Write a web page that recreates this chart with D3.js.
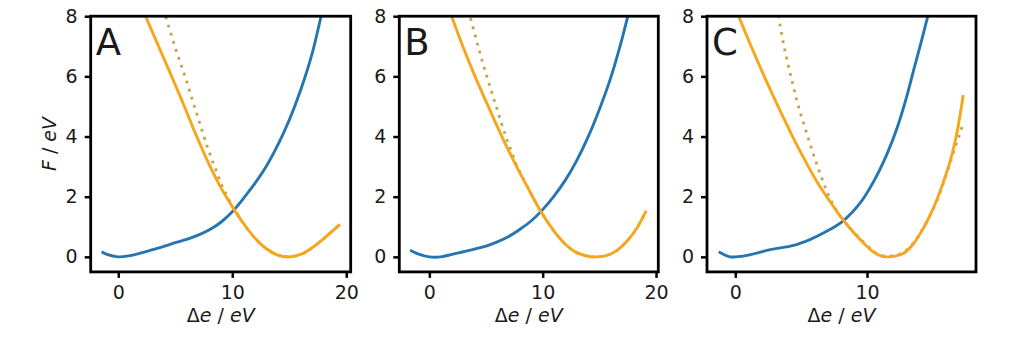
<!DOCTYPE html>
<html>
<head>
<meta charset="utf-8">
<script src="https://cdn.jsdelivr.net/npm/d3@7"></script>
<style>
  html, body { margin: 0; padding: 0; background: #fff; }
  svg { display: block; }
  text { font-family: "DejaVu Sans", sans-serif; fill: #1a1a1a; }
</style>
</head>
<body>
<svg id="chart" width="1017" height="345"></svg>
<script>
// ---- Free-energy curves F(Δe) for three systems ----
const panelLabels = ["A", "B", "C"];

// Panel A
const blueAX = [-1.46, -1, 0, 1, 2, 3, 4, 5, 6, 7, 8, 9, 10, 11, 12, 13, 14, 15, 16, 17, 17.7, 18.2];
const blueAY = [0.17, 0.08, 0, 0.04, 0.13, 0.24, 0.35, 0.47, 0.58, 0.72, 0.9, 1.15, 1.5, 1.95, 2.45, 3.02, 3.72, 4.55, 5.55, 6.75, 7.85, 8.7];
const orangeAX = [2.0, 2.4, 3.5, 4.68, 5.8, 6.88, 8.0, 9.0, 10.0, 11.0, 12.0, 13.0, 14.0, 15.0, 16.0, 17.0, 18.0, 19.45];
const orangeAY = [8.4, 8.0, 7.03, 6.0, 5.0, 4.0, 3.05, 2.3, 1.67, 1.1, 0.62, 0.27, 0.06, 0.0, 0.08, 0.3, 0.6, 1.08];
const dottedAX = [4.0, 4.16, 5.0, 5.85, 6.7, 7.52, 8.0, 8.5, 9.0, 9.5, 10.0, 10.5, 11.0, 12.0, 13.0, 14.0, 15.0, 16.0, 17.0, 18.0, 19.45];
const dottedAY = [8.25, 8.0, 6.95, 6.0, 4.98, 4.0, 3.45, 2.95, 2.45, 2.05, 1.69, 1.39, 1.1, 0.62, 0.27, 0.06, 0.0, 0.08, 0.3, 0.6, 1.08];

// Panel B
const blueBX = [-1.7, -1, 0, 1, 2, 3, 4, 5, 6, 7, 8, 9, 10, 11, 12, 13, 14, 15, 16, 17, 17.8];
const blueBY = [0.22, 0.1, 0, 0.0, 0.08, 0.17, 0.26, 0.36, 0.5, 0.68, 0.92, 1.2, 1.57, 2.02, 2.55, 3.2, 3.98, 4.9, 5.95, 7.25, 8.45];
const orangeBX = [1.6, 1.97, 3.0, 4.03, 5.2, 6.4, 7.7, 9.04, 9.77, 10.5, 11.24, 12.0, 13.0, 14.0, 14.5, 15.5, 16.5, 17.5, 18.3, 19.13];
const orangeBY = [8.4, 8.0, 6.95, 6.0, 5.0, 4.0, 3.0, 2.05, 1.55, 1.12, 0.74, 0.42, 0.14, 0.02, 0.0, 0.03, 0.2, 0.55, 0.95, 1.53];
const dottedBX = [3.45, 3.59, 4.3, 5.07, 5.9, 6.7, 7.3, 7.75, 8.3, 9.04, 9.77, 10.5, 11.24, 12.0, 13.0, 14.0, 14.5, 15.5, 16.5, 17.5, 18.3, 19.13];
const dottedBY = [8.2, 8.0, 7.0, 6.0, 5.0, 4.05, 3.45, 3.0, 2.6, 2.05, 1.55, 1.12, 0.74, 0.42, 0.14, 0.02, 0.0, 0.03, 0.2, 0.55, 0.95, 1.53];

// Panel C
const blueCX = [-1.26, -0.4, 0, 1, 2.66, 4.43, 5.7, 6.9, 8.2, 9.5, 10.5, 11.5, 12.3, 13.0, 13.6, 14.15, 14.62, 15.0];
const blueCY = [0.17, 0.0, 0, 0.06, 0.24, 0.38, 0.58, 0.84, 1.2, 1.8, 2.5, 3.4, 4.3, 5.3, 6.3, 7.2, 8.0, 8.7];
const orangeCX = [-0.1, 0.25, 1.2, 2.2, 3.25, 4.35, 5.55, 6.2, 7.1, 8.2, 9.0, 9.72, 10.5, 11.0, 11.5, 12.2, 12.79, 13.5, 14.05, 14.7, 15.3, 15.85, 16.33, 16.8, 17.31];
const orangeCY = [8.35, 8.0, 7.0, 6.0, 5.0, 4.0, 3.0, 2.5, 1.9, 1.22, 0.8, 0.47, 0.16, 0.04, 0.0, 0.03, 0.12, 0.42, 0.78, 1.3, 1.89, 2.55, 3.2, 4.05, 5.38];
const dottedCX = [3.15, 3.27, 3.7, 4.22, 4.8, 5.5, 6.25, 7.08, 7.6, 8.2, 9.0, 9.72, 10.5, 11.0, 11.5, 12.2, 12.79, 13.5, 14.05, 14.7, 15.3, 15.85, 16.3, 16.68, 17.06, 17.31];
const dottedCY = [8.3, 8.0, 7.0, 6.0, 5.0, 4.0, 3.0, 2.05, 1.6, 1.22, 0.82, 0.5, 0.18, 0.06, 0.02, 0.06, 0.15, 0.45, 0.8, 1.3, 1.85, 2.5, 3.1, 3.62, 4.1, 4.45];

// Axis limits and ticks
const xLimA = [-2.42, 20.39], xLimB = [-2.65, 20.2], xLimC = [-2.15, 18.28];
const yLim = [-0.5, 8];
const xTicksAB = [0, 10, 20], xTicksC = [0, 10];
const yTicks = [0, 2, 4, 6, 8];
const xTitle = ["Δ", "e", " / ", "eV"];
const yTitle = ["F", " / ", "eV"];

const zip = (xs, ys) => xs.map((x, i) => [x, ys[i]]);

const panels = [
  { label: panelLabels[0], xLim: xLimA, xTicks: xTicksAB, left: 90.7, right: 350.7, showY: true,
    blue: zip(blueAX, blueAY), orange: zip(orangeAX, orangeAY), dotted: zip(dottedAX, dottedAY) },
  { label: panelLabels[1], xLim: xLimB, xTicks: xTicksAB, left: 399.3, right: 658.3, showY: false,
    blue: zip(blueBX, blueBY), orange: zip(orangeBX, orangeBY), dotted: zip(dottedBX, dottedBY) },
  { label: panelLabels[2], xLim: xLimC, xTicks: xTicksC, left: 707, right: 976, showY: false,
    blue: zip(blueCX, blueCY), orange: zip(orangeCX, orangeCY), dotted: zip(dottedCX, dottedCY) }
];

const plotTop = 16.2, plotBottom = 271.9;
const blueColor = "#2576b0", orangeColor = "#f5a61d", dottedColor = "#c2a44c";

const svg = d3.select("#chart");

panels.forEach((p, i) => {
  const x = d3.scaleLinear().domain(p.xLim).range([p.left, p.right]);
  const y = d3.scaleLinear().domain(yLim).range([plotBottom, plotTop]);
  const g = svg.append("g");

  const clipId = "clip" + i;
  svg.append("clipPath").attr("id", clipId)
    .append("rect").attr("x", p.left).attr("y", plotTop)
    .attr("width", p.right - p.left).attr("height", plotBottom - plotTop);

  const line = d3.line().x(d => x(d[0])).y(d => y(d[1])).curve(d3.curveCatmullRom.alpha(0.5));
  const plot = g.append("g").attr("clip-path", `url(#${clipId})`);

  plot.append("path").attr("d", line(p.blue))
    .attr("fill", "none").attr("stroke", blueColor).attr("stroke-width", 2.9);
  plot.append("path").attr("d", line(p.dotted))
    .attr("fill", "none").attr("stroke", dottedColor).attr("stroke-width", 2.8)
    .attr("stroke-dasharray", "2.8 5.6");
  plot.append("path").attr("d", line(p.orange))
    .attr("fill", "none").attr("stroke", orangeColor).attr("stroke-width", 2.9);

  // x axis
  const xa = g.append("g").attr("transform", `translate(0,${plotBottom})`)
    .call(d3.axisBottom(x).tickValues(p.xTicks).tickSize(6).tickPadding(8).tickFormat(d3.format("d")));
  xa.select(".domain").remove();
  xa.selectAll(".tick line").attr("stroke", "#000").attr("stroke-width", 2.5);
  xa.selectAll(".tick text").style("font-size", "19px").attr("fill", "#1a1a1a");

  // y axis
  const ya = g.append("g").attr("transform", `translate(${p.left},0)`)
    .call(d3.axisLeft(y).tickValues(yTicks).tickSize(6).tickPadding(7).tickFormat(d3.format("d")));
  ya.select(".domain").remove();
  ya.selectAll(".tick line").attr("stroke", "#000").attr("stroke-width", 2.5);
  ya.selectAll(".tick text").style("font-size", "19px").attr("fill", "#1a1a1a");

  // frame
  g.append("rect").attr("x", p.left).attr("y", plotTop)
    .attr("width", p.right - p.left).attr("height", plotBottom - plotTop)
    .attr("fill", "none").attr("stroke", "#000").attr("stroke-width", 2.8);

  // panel letter
  g.append("text").attr("x", p.left + 5).attr("y", 55)
    .style("font-size", "37px").text(p.label);

  // x title
  const xt = g.append("text").attr("x", (p.left + p.right) / 2).attr("y", 322)
    .attr("text-anchor", "middle").style("font-size", "19px");
  xTitle.forEach((s, k) => xt.append("tspan").text(s)
    .style("font-style", (k === 1 || k === 3) ? "italic" : "normal"));

  // y title
  if (p.showY) {
    const yt = g.append("text").attr("transform", `translate(56,144) rotate(-90)`)
      .attr("text-anchor", "middle").style("font-size", "19px");
    yTitle.forEach((s, k) => yt.append("tspan").text(s)
      .style("font-style", (k === 0 || k === 2) ? "italic" : "normal"));
  }
});
</script>
</body>
</html>
